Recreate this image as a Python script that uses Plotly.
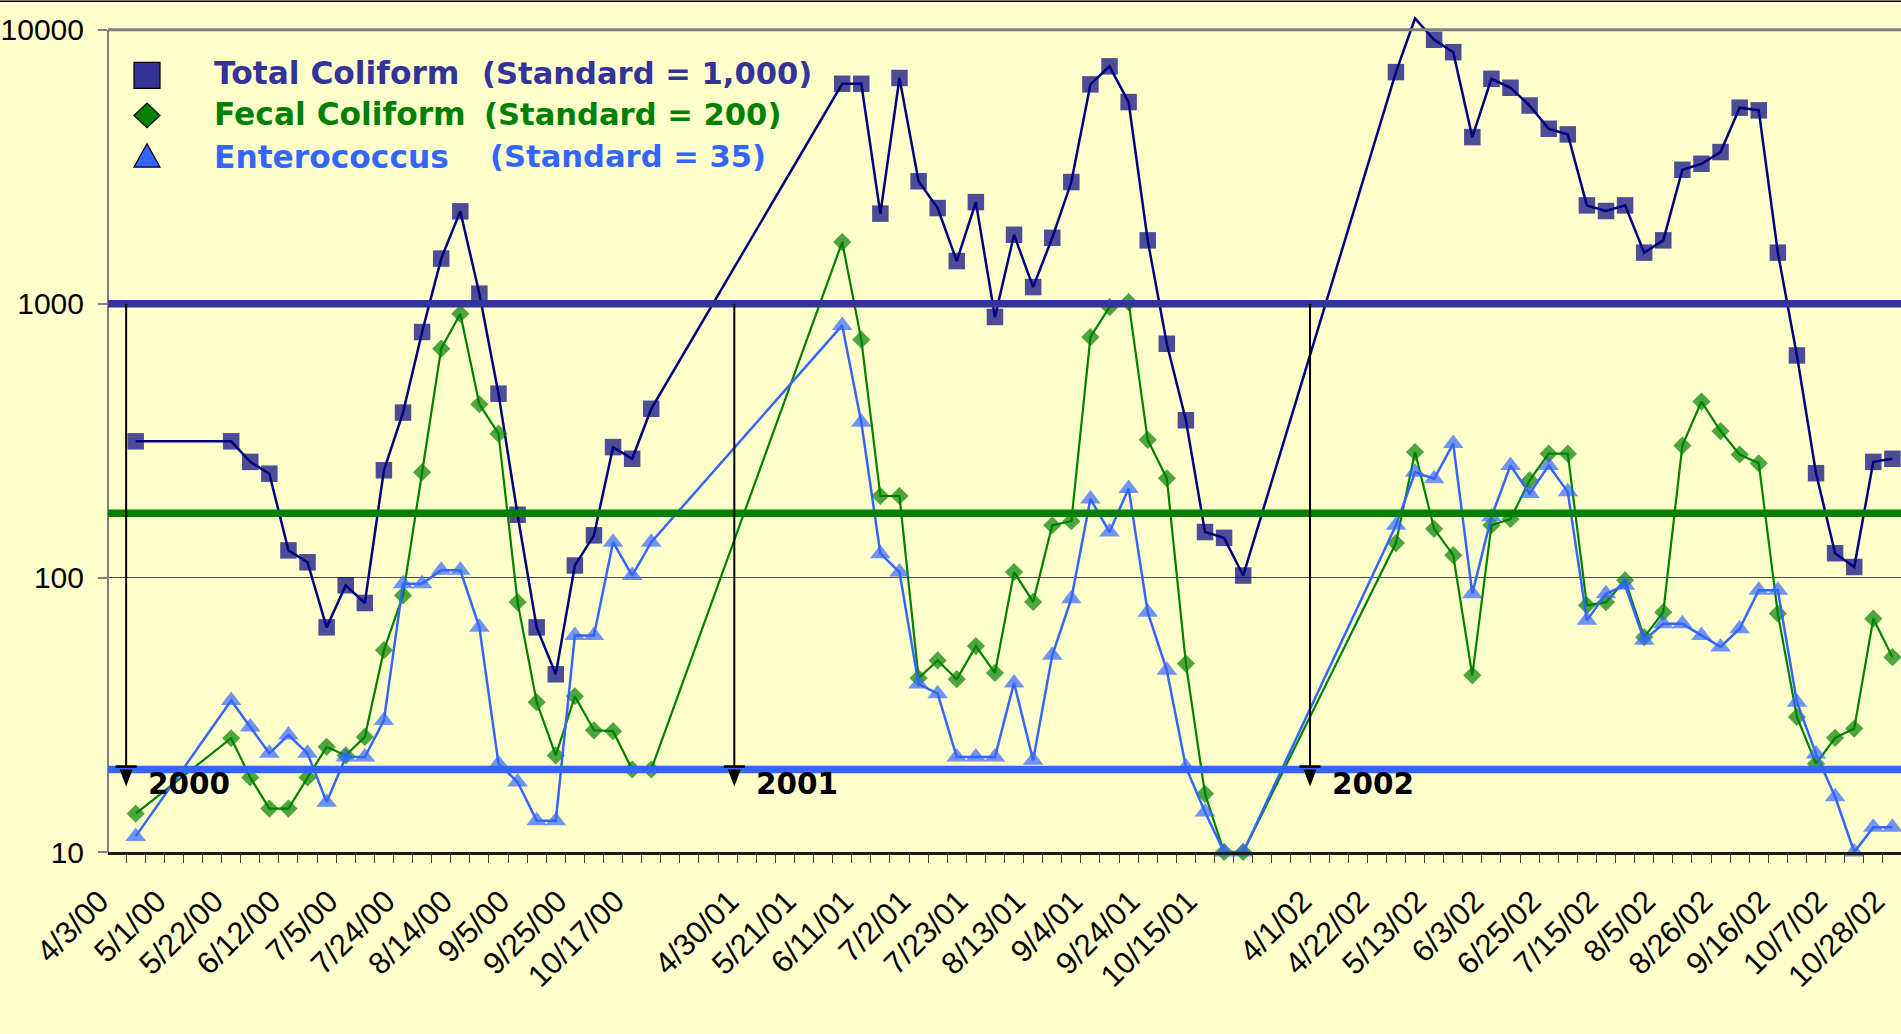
import plotly.graph_objects as go
import math

# ---------------- data ----------------
tick_labels = ["4/3/00", "5/1/00", "5/22/00", "6/12/00", "7/5/00", "7/24/00", "8/14/00",
               "9/5/00", "9/25/00", "10/17/00", "",
               "4/30/01", "5/21/01", "6/11/01", "7/2/01", "7/23/01", "8/13/01", "9/4/01",
               "9/24/01", "10/15/01", "",
               "4/1/02", "4/22/02", "5/13/02", "6/3/02", "6/25/02", "7/15/02", "8/5/02",
               "8/26/02", "9/16/02", "10/7/02", "10/28/02"]
label_step = 3  # one label every third sampling category

sample_2000 = [1, 6, 7, 8, 9, 10, 11, 12, 13, 14, 15, 16, 17, 18, 19, 20, 21, 22, 23, 24, 25, 26, 27, 28]
sample_2001 = [38, 39, 40, 41, 42, 43, 44, 45, 46, 47, 48, 49, 50, 51, 52, 53, 54, 55, 56, 57, 58, 59]
sample_2002 = [67, 68, 69, 70, 71, 72, 73, 74, 75, 76, 77, 78, 79, 80, 81, 82, 83, 84, 85, 86, 87,
               88, 89, 90, 91, 92, 93]

total_2000 = [315, 315, 265, 240, 126, 114, 66, 94, 81, 247, 401, 789, 1462, 2175, 1089, 470,
              170, 66, 44.5, 111, 143, 300, 272, 414]
total_2001 = [6350, 6350, 2133, 6666, 2800, 2235, 1432, 2350, 895, 1786, 1151, 1741, 2781, 6318,
              7350, 5445, 1704, 715, 376, 147, 140, 102]
total_2002 = [7003, 11000, 9190, 8280, 4056, 6620, 6140, 5290, 4350, 4150, 2286, 2180, 2286, 1537,
              1704, 3083, 3243, 3578, 5194, 5078, 1537, 648, 241, 123, 109.6, 265, 272]

fecal_2000 = [13.8, 26, 18.7, 14.4, 14.4, 18.7, 24.2, 22.5, 26.3, 54.5, 86.3, 243, 686, 920, 430,
              336, 81.6, 35.2, 22.5, 37, 27.8, 27.6, 20, 20]
fecal_2001 = [1680, 740, 199, 199, 43.1, 50, 42.7, 56.4, 45, 105, 81.7, 155.6, 161, 756, 973, 1015,
              319, 231, 48.7, 16.3, 10, 10]
fecal_2002 = [134, 288, 151, 121, 44.1, 155.6, 164, 227, 284, 284, 79.4, 81.6, 98, 60.8, 75, 304,
              440, 343, 282, 262, 74.1, 31.1, 21, 26.1, 28.2, 71, 51.4]

entero_2000 = [11.4, 35.7, 28.6, 22.9, 26.7, 22.9, 15.2, 22.2, 22.2, 30.2, 95.3, 95.3, 106.6, 106.6,
               66, 21, 18, 13, 13, 61.7, 61.7, 135, 102, 135]
entero_2001 = [834, 370, 122.6, 105, 41, 37.8, 22.2, 22.2, 22.2, 41.4, 21.6, 52.2, 84, 194, 147, 212,
               75, 46, 20.4, 14, 10, 10]
entero_2002 = [155.6, 243, 230, 309, 87.6, 167, 257, 203, 257, 206, 70, 87.6, 94, 59.2, 68, 68, 61.7,
               56, 65.3, 90.1, 90.1, 35.2, 22.8, 15.9, 10, 12.3, 12.3]

series_names = ["Total Coliform", "Fecal Coliform", "Enterococcus"]
standard_text = ["(Standard = 1,000)", "(Standard = 200)", "(Standard = 35)"]
standard_lines = [1000, 172, 20]          # levels of the drawn standard bars
year_labels = ["2000", "2001", "2002"]
year_marker_pos = [0.5, 32.35, 62.5]      # category position of the season markers
year_marker_top = 1000
year_marker_bottom = 20.5

# ---------------- geometry / style ----------------
W, H = 1901, 1034
L, R, T, B = 108, 0, 15.6, 182.3
PW, PH = W - L - R, H - T - B
Y_MIN_LOG, Y_MAX_LOG = 1, 4.05
X_RANGE = [-0.45, 93.45]
AXIS_MAX = 10000

TC_COLOR = "#000080"
TC_STD = "#333399"
FC_COLOR = "#008000"
EN_COLOR = "#3366FF"
BG = "#FFFFCC"
TICK_FONT = "Liberation Sans, Arial, sans-serif"
BOLD_FONT = "DejaVu Sans, Verdana, sans-serif"


def px_x(px):
    return (px - L) / PW


def px_y(py):
    return 1 - (py - T) / PH


def log_y_to_paper(v):
    return (math.log10(v) - Y_MIN_LOG) / (Y_MAX_LOG - Y_MIN_LOG)


x_all = sample_2000 + sample_2001 + sample_2002
series = [
    (total_2000 + total_2001 + total_2002, TC_COLOR, "square", 16.5, 2.5),
    (fecal_2000 + fecal_2001 + fecal_2002, FC_COLOR, "diamond", 14, 2.2),
    (entero_2000 + entero_2001 + entero_2002, EN_COLOR, "triangle-up", 18, 2.5),
]

fig = go.Figure()
for name, (vals, color, sym, size, lw) in zip(series_names, series):
    sizes = [size if v <= AXIS_MAX else 0 for v in vals]
    fig.add_trace(go.Scatter(
        x=x_all, y=vals, mode="lines+markers", name=name, showlegend=False,
        line=dict(color=color, width=lw),
        marker=dict(symbol=sym, size=sizes, color=color, line=dict(width=0)),
        cliponaxis=False, hoverinfo="x+y"))

shapes = []
# chart-area top border
shapes.append(dict(type="line", xref="paper", yref="paper", x0=px_x(0), x1=1,
                   y0=px_y(0.8), y1=px_y(0.8), line=dict(color="#000000", width=1.6)))
# plot area top border at 10000 and left axis
shapes.append(dict(type="line", xref="paper", yref="y", x0=0, x1=1, y0=AXIS_MAX, y1=AXIS_MAX,
                   line=dict(color="#808080", width=3), layer="above"))
shapes.append(dict(type="line", xref="paper", yref="y", x0=0, x1=0, y0=10, y1=AXIS_MAX,
                   line=dict(color="#808080", width=2), layer="above"))
# standard bars
for lvl, col in zip(standard_lines, [TC_STD, FC_COLOR, EN_COLOR]):
    shapes.append(dict(type="line", xref="paper", yref="y", x0=0, x1=1, y0=lvl, y1=lvl,
                       line=dict(color=col, width=7.5), layer="above"))
# season markers
cat_px = PW / (X_RANGE[1] - X_RANGE[0])
for xp in year_marker_pos:
    shapes.append(dict(type="line", xref="x", yref="y", x0=xp, x1=xp,
                       y0=year_marker_top, y1=year_marker_bottom,
                       line=dict(color="#000000", width=2), layer="above"))
    shapes.append(dict(type="line", xref="x", yref="y", x0=xp - 10.5 / cat_px, x1=xp + 10.5 / cat_px,
                       y0=year_marker_bottom, y1=year_marker_bottom,
                       line=dict(color="#000000", width=2.5), layer="above"))
    yb = log_y_to_paper(year_marker_bottom) - 3 / PH
    yt = yb - 17 / PH
    hw = 6.5 / cat_px
    shapes.append(dict(type="path", xref="x", yref="paper",
                       path=f"M {xp - hw} {yb} L {xp + hw} {yb} L {xp} {yt} Z",
                       fillcolor="#000000", line=dict(color="#000000", width=0), layer="above"))

# legend symbols (paper coords)
lx = 147
leg_y = [75, 115, 155]
leg_text_y = [73, 114, 156.5]
shapes.append(dict(type="rect", xref="paper", yref="paper",
                   x0=px_x(lx - 13), x1=px_x(lx + 13), y0=px_y(leg_y[0] - 13), y1=px_y(leg_y[0] + 13),
                   fillcolor=TC_STD, line=dict(color="#000000", width=1.2)))
cy = leg_y[1]
shapes.append(dict(type="path", xref="paper", yref="paper",
                   path=f"M {px_x(lx - 13)} {px_y(cy)} L {px_x(lx)} {px_y(cy - 12.3)} "
                        f"L {px_x(lx + 13)} {px_y(cy)} L {px_x(lx)} {px_y(cy + 12.3)} Z",
                   fillcolor=FC_COLOR, line=dict(color="#000000", width=1.2)))
cy = leg_y[2]
shapes.append(dict(type="path", xref="paper", yref="paper",
                   path=f"M {px_x(lx - 13)} {px_y(cy + 11.7)} L {px_x(lx + 13)} {px_y(cy + 11.7)} "
                        f"L {px_x(lx)} {px_y(cy - 11.7)} Z",
                   fillcolor=EN_COLOR, line=dict(color="#000000", width=1.2)))

annotations = []
legend_colors = [TC_STD, FC_COLOR, EN_COLOR]
std_x = [480, 482, 488]
for name, st, col, yy, sx in zip(series_names, standard_text, legend_colors, leg_text_y, std_x):
    annotations.append(dict(xref="paper", yref="paper", x=px_x(212), y=px_y(yy), xanchor="left",
                            yanchor="middle", text=f"<b>{name}</b>", showarrow=False,
                            font=dict(family=BOLD_FONT, size=31.3, color=col)))
    annotations.append(dict(xref="paper", yref="paper", x=px_x(sx), y=px_y(yy), xanchor="left",
                            yanchor="middle", text=f"<b>{st}</b>", showarrow=False,
                            font=dict(family=BOLD_FONT, size=30.6, color=col)))
for lab, xp in zip(year_labels, year_marker_pos):
    annotations.append(dict(xref="x", yref="y", x=xp + 19.5 / cat_px, y=1.247, xanchor="left",
                            yanchor="middle", text=f"<b>{lab}</b>", showarrow=False,
                            font=dict(family=BOLD_FONT, size=29.5, color="#000000")))

tickvals = [i * label_step for i in range(len(tick_labels))]

fig.update_layout(
    width=W, height=H, autosize=False,
    margin=dict(l=L, r=R, t=T, b=B, pad=0),
    paper_bgcolor=BG, plot_bgcolor=BG,
    shapes=shapes, annotations=annotations,
    xaxis=dict(range=X_RANGE, tickmode="array", tickvals=tickvals, ticktext=tick_labels,
               tickangle=-45, ticks="", showgrid=False, zeroline=False,
               showline=True, linecolor="#1a1a1a", linewidth=2.5,
               tickfont=dict(family=TICK_FONT, size=31, color="#000000"),
               ticklabelstandoff=16, ticklabelshift=-17,
               minor=dict(ticks="outside", tick0=0.5, dtick=1, ticklen=8,
                          tickcolor="#404040", tickwidth=1, showgrid=False)),
    yaxis=dict(type="log", range=[Y_MIN_LOG, Y_MAX_LOG], tickmode="array",
               tickvals=[10, 100, 1000, 10000], ticktext=["10", "100", "1000", "10000"],
               showgrid=True, gridcolor="#4d4d4d", gridwidth=1, zeroline=False,
               showline=False, ticks="outside", ticklen=9, tickcolor="#808080", tickwidth=1.5,
               tickfont=dict(family=TICK_FONT, size=30, color="#000000"),
               ticklabelstandoff=8),
    showlegend=False,
)

fig.write_html("out.html", config={"displayModeBar": False},
               post_script="document.body.style.margin='0';document.body.style.overflow='hidden';")
